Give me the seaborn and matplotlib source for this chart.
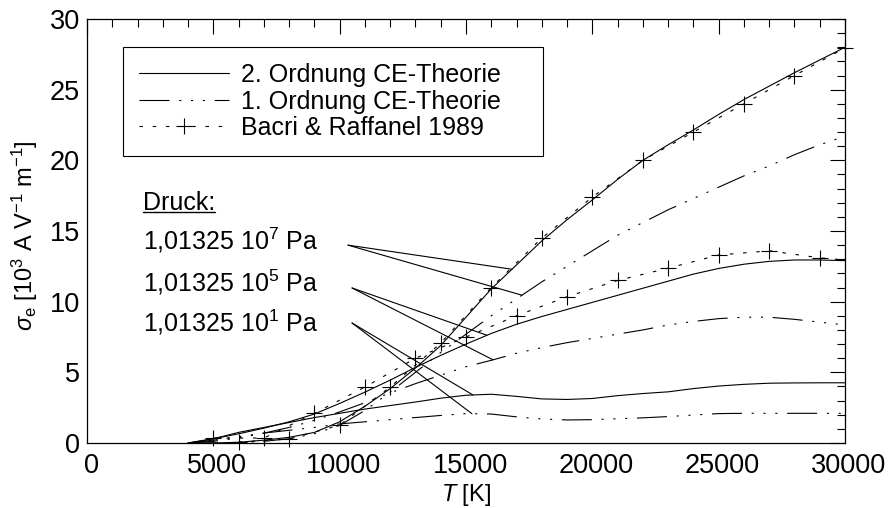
import numpy as np
import pandas as pd
import matplotlib
matplotlib.use("Agg")
import matplotlib.pyplot as plt
from matplotlib.ticker import MultipleLocator
from matplotlib.transforms import ScaledTranslation
import seaborn as sns

# ---- data -------------------------------------------------------------
T_theory = list(range(4000, 30001, 1000))

# 2. Ordnung Chapman-Enskog
s2_p7 = [0.0, 0.0, 0.05, 0.2, 0.4, 0.75, 1.5, 2.6, 3.85, 5.3, 6.9, 8.9, 10.9, 12.6,
         14.3, 15.8, 17.2, 18.65, 20.0, 21.1, 22.15, 23.25, 24.3, 25.25, 26.2, 27.1, 28.0]
s2_p5 = [0.0, 0.3, 0.65, 1.05, 1.5, 2.05, 2.8, 3.6, 4.45, 5.35, 6.2, 7.0, 7.75, 8.4,
         8.95, 9.45, 9.95, 10.45, 10.95, 11.45, 11.95, 12.35, 12.65, 12.85, 12.95, 12.95, 12.9]
s2_p1 = [0.0, 0.3, 0.75, 1.1, 1.45, 1.8, 2.1, 2.4, 2.65, 2.9, 3.17, 3.38, 3.45, 3.3,
         3.12, 3.08, 3.15, 3.35, 3.5, 3.62, 3.85, 4.03, 4.15, 4.23, 4.25, 4.26, 4.26]

# 1. Ordnung Chapman-Enskog
s1_p7 = [0.0, 0.0, 0.03, 0.12, 0.3, 0.65, 1.25, 2.3, 3.6, 5.0, 6.4, 7.7, 9.0, 10.2,
         11.4, 12.5, 13.6, 14.7, 15.6, 16.5, 17.3, 18.1, 18.9, 19.6, 20.4, 21.1, 21.7]
s1_p5 = [0.0, 0.12, 0.35, 0.7, 1.1, 1.6, 2.2, 2.85, 3.55, 4.2, 4.8, 5.4, 5.85, 6.35,
         6.75, 7.1, 7.4, 7.7, 8.0, 8.35, 8.6, 8.8, 8.9, 8.9, 8.75, 8.55, 8.35]
s1_p1 = [0.0, 0.2, 0.45, 0.7, 0.9, 1.1, 1.35, 1.5, 1.65, 1.8, 1.95, 2.08, 2.05, 1.85,
         1.7, 1.63, 1.65, 1.72, 1.78, 1.87, 1.98, 2.08, 2.1, 2.1, 2.1, 2.1, 2.1]

# Bacri & Raffanel 1989
T_bacri_p7 = list(range(6000, 30001, 2000))
bacri_p7 = [0.07, 0.28, 1.27, 3.96, 7.07, 11.0, 14.5, 17.4, 20.0, 22.0, 24.0, 26.0, 27.95]
T_bacri_p5 = list(range(5000, 29001, 2000)) + [30000]
bacri_p5 = [0.35, 0.35, 2.1, 3.96, 6.0, 7.5, 9.0, 10.35, 11.5, 12.37, 13.3, 13.6, 13.1, 12.95]

legend_labels = ["2. Ordnung CE-Theorie", "1. Ordnung CE-Theorie", "Bacri & Raffanel 1989"]
pressure_labels = [r"1,01325 10$^7$ Pa", r"1,01325 10$^5$ Pa", r"1,01325 10$^1$ Pa"]

# temperatures at which the leader lines meet the (solid, dashed) curves
leader_T = [(16820, 17215), (15830, 16070), (15275, 15235)]

# ---- style ------------------------------------------------------------
sns.set_theme(style="white")
plt.rcParams.update({
    "font.family": ["Liberation Sans", "DejaVu Sans"],
    "mathtext.fontset": "custom",
    "mathtext.rm": "Liberation Sans",
    "mathtext.it": "Liberation Sans:italic",
    "mathtext.bf": "Liberation Sans:bold",
    "lines.scale_dashes": False,
    "axes.edgecolor": "black",
    "axes.linewidth": 0.9,
    "xtick.color": "black",
    "ytick.color": "black",
    "text.color": "black",
    "axes.labelcolor": "black",
})

LW = 0.8
TXT = 18
SOLID = "-"
DASH3DOT = (0, (21.6, 7.0, 1.5, 7.0, 1.5, 7.0, 1.5, 7.0))
DOTTED = (0, (2.5, 7.0))

fig = plt.figure(figsize=(8.96, 5.08), dpi=100)
ax = fig.add_axes([87 / 896, 65 / 508, 758 / 896, 424 / 508])


def curve(T, y, ls, **kw):
    sns.lineplot(x=T, y=y, ax=ax, color="black", lw=LW, linestyle=ls,
                 errorbar=None, legend=False, **kw)
    return ax.lines[-1]


h_solid = curve(T_theory, s2_p7, SOLID)
h_dash = curve(T_theory, s1_p7, DASH3DOT)
curve(T_theory, s2_p5, SOLID)
curve(T_theory, s1_p5, DASH3DOT)
curve(T_theory, s2_p1, SOLID)
curve(T_theory, s1_p1, DASH3DOT)

marker_kw = dict(marker="+", markersize=12, markeredgewidth=0.8,
                 markeredgecolor="black", clip_on=False)
h_bacri = curve(T_bacri_p7, bacri_p7, DOTTED, **marker_kw)
curve(T_bacri_p5, bacri_p5, DOTTED, markevery=list(range(len(bacri_p5) - 1)), **marker_kw)

# ---- axes -------------------------------------------------------------
ax.set_xlim(0, 30000)
ax.set_ylim(0, 30)
ax.set_xticks(range(0, 30001, 5000))
ax.set_yticks(range(0, 31, 5))
ax.xaxis.set_minor_locator(MultipleLocator(1000))
ax.yaxis.set_minor_locator(MultipleLocator(1))
ax.tick_params(which="both", direction="in", top=True, right=True,
               width=0.8, labelsize=19.5)
ax.tick_params(which="major", length=11)
ax.tick_params(which="minor", length=5.5)
ax.tick_params(axis="x", pad=7)
ax.tick_params(axis="y", pad=5)
for lbl in ax.get_xticklabels():
    lbl.set_transform(lbl.get_transform() + ScaledTranslation(4 / 100, 0, fig.dpi_scale_trans))

ax.set_xlabel(r"$T$ [K]", fontsize=17)
ax.xaxis.set_label_coords(0.5, -0.093)
ax.set_ylabel(r"$\sigma_\mathrm{e}$ [10$^3$ A V$^{-1}$ m$^{-1}$]", fontsize=17)
ax.yaxis.set_label_coords(-0.062, 0.49)

# ---- legend -----------------------------------------------------------
leg = ax.legend([h_solid, h_dash, h_bacri], legend_labels, loc="upper left",
                bbox_to_anchor=(0.0475, 0.0, (543 - 123) / 758, 0.934), mode="expand",
                fontsize=TXT, frameon=True, fancybox=False, edgecolor="black",
                framealpha=1, borderaxespad=0, handlelength=3.6, handletextpad=0.48,
                labelspacing=0.1, borderpad=0.65, numpoints=1)
leg.get_frame().set_linewidth(0.8)

# ---- pressure labels with leader lines ---------------------------------
druck = ax.text(2216, 16.52, "Druck:", fontsize=TXT, va="baseline", ha="left")
label_y = [13.66, 10.71, 7.88]
leader_start = [(10330, 14.0), (10490, 10.97), (10490, 8.49)]
curves_by_p = [(s2_p7, s1_p7), (s2_p5, s1_p5), (s2_p1, s1_p1)]
for text, y, (x0, y0), (ts, td), (cs, cd) in zip(pressure_labels, label_y, leader_start,
                                                  leader_T, curves_by_p):
    ax.text(2216, y, text, fontsize=TXT, va="baseline", ha="left")
    for t, c in ((ts, cs), (td, cd)):
        ax.plot([x0, t], [y0, np.interp(t, T_theory, c)], color="black", lw=LW)

# underline for "Druck:"
fig.canvas.draw()
bb = druck.get_window_extent(fig.canvas.get_renderer())
inv = ax.transData.inverted()
(ux0, uy), (ux1, _) = inv.transform([(bb.x0, bb.y0 + 3), (bb.x1, bb.y0 + 3)])
ax.plot([ux0, ux1], [uy, uy], color="black", lw=1.0)

fig.savefig("out.png", dpi=100)
